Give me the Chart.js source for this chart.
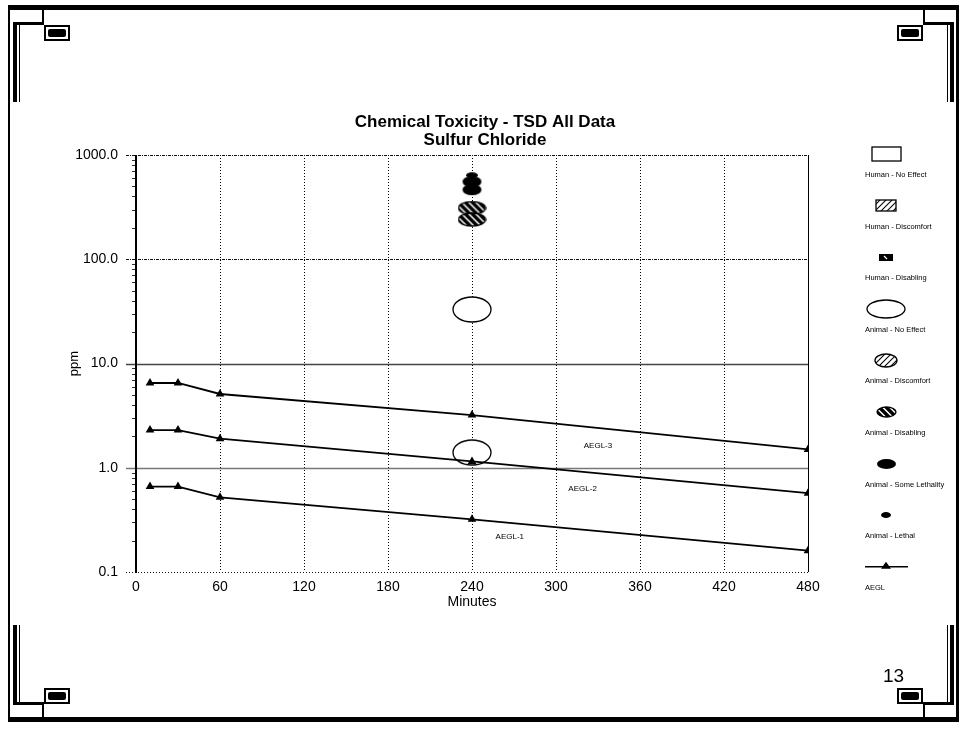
<!DOCTYPE html>
<html>
<head>
<meta charset="utf-8">
<script src="https://cdn.jsdelivr.net/npm/chart.js@4.4.1/dist/chart.umd.min.js"></script>
<style>
  body { margin: 0; background: #fff; }
  #wrap { position: relative; width: 963px; height: 733px; overflow: hidden; background: #fff; }
  #chart { position: absolute; left: 0; top: 0; }
  .b { position: absolute; background: #000; }
  .tile { position: absolute; width: 22px; height: 12px; border: 2px solid #000; background: #fff; }
  .tile i { position: absolute; left: 2px; top: 2px; width: 18px; height: 8px; background: #000; border-radius: 2px; }
  #page { position: absolute; left: 883px; top: 665px; font: 19px "Liberation Sans", Arial, sans-serif; color: #000; }
</style>
</head>
<body>
<div id="wrap">
  <canvas id="chart" width="963" height="733"></canvas>

  <!-- slide frame -->
  <div class="b" style="left:8px;top:5px;width:951px;height:5px"></div>
  <div class="b" style="left:8px;top:717px;width:951px;height:5px"></div>
  <div class="b" style="left:8px;top:5px;width:2px;height:717px"></div>
  <div class="b" style="left:956px;top:5px;width:3px;height:717px"></div>

  <div class="b" style="left:13px;top:22px;width:31px;height:3px"></div>
  <div class="b" style="left:13px;top:22px;width:4px;height:80px"></div>
  <div class="b" style="left:19px;top:25px;width:1px;height:77px"></div>
  <div class="b" style="left:42px;top:10px;width:2px;height:14px"></div>

  <div class="b" style="left:923px;top:22px;width:31px;height:3px"></div>
  <div class="b" style="left:950px;top:22px;width:4px;height:80px"></div>
  <div class="b" style="left:947px;top:25px;width:1px;height:77px"></div>
  <div class="b" style="left:923px;top:10px;width:2px;height:14px"></div>

  <div class="b" style="left:13px;top:702px;width:31px;height:3px"></div>
  <div class="b" style="left:13px;top:625px;width:4px;height:80px"></div>
  <div class="b" style="left:19px;top:625px;width:1px;height:77px"></div>
  <div class="b" style="left:42px;top:703px;width:2px;height:14px"></div>

  <div class="b" style="left:923px;top:702px;width:31px;height:3px"></div>
  <div class="b" style="left:950px;top:625px;width:4px;height:80px"></div>
  <div class="b" style="left:947px;top:625px;width:1px;height:77px"></div>
  <div class="b" style="left:923px;top:703px;width:2px;height:14px"></div>

  <div class="tile" style="left:44px;top:25px"><i></i></div>
  <div class="tile" style="left:897px;top:25px"><i></i></div>
  <div class="tile" style="left:44px;top:688px"><i></i></div>
  <div class="tile" style="left:897px;top:688px"><i></i></div>

  <div id="page">13</div>
</div>

<script>
// chart data
const titleLines = ["Chemical Toxicity - TSD All Data", "Sulfur Chloride"];
const times = [10, 30, 60, 240, 480];
const aegl1 = [0.66, 0.66, 0.52, 0.32, 0.16];
const aegl2 = [2.3, 2.3, 1.9, 1.15, 0.57];
const aegl3 = [6.5, 6.5, 5.1, 3.2, 1.5];

// animal exposures (minutes, ppm)
const animalNoEffect = [[240, 33], [240, 1.4]];
const animalDisabling = [[240, 310], [240, 240]];
const animalSomeLethality = [[240, 555], [240, 465]];
const animalLethal = [[240, 640]];

const xTicks = [0, 60, 120, 180, 240, 300, 360, 420, 480];
const yTicks = [0.1, 1, 10, 100, 1000];

const legendNames = [
  "Human - No Effect", "Human - Discomfort", "Human - Disabling",
  "Animal - No Effect", "Animal - Discomfort", "Animal - Disabling",
  "Animal - Some Lethality", "Animal - Lethal", "AEGL"
];

// curve labels: text, minutes, ppm
const curveNames = ["AEGL-3", "AEGL-2", "AEGL-1"];
const curveLabelX = [330, 319, 267];
const curveLabelY = [1.61, 0.635, 0.22];

const FONT = "'Liberation Sans', Arial, sans-serif";

// ---- symbol images ----
function hatch(g, w, h, kind) {
  g.strokeStyle = "#000";
  if (kind === "thick") {
    g.lineWidth = 3.4;
    for (let i = -h; i < w + h; i += 7) {
      g.beginPath(); g.moveTo(i, 0); g.lineTo(i + h, h); g.stroke();
    }
  } else {
    g.lineWidth = 1.1;
    for (let i = 0; i < w + h + 6; i += 6) {
      g.beginPath(); g.moveTo(i, 0); g.lineTo(i - h, h); g.stroke();
    }
  }
}

function ellipse(w, h, kind) {
  const c = document.createElement("canvas");
  c.width = w + 2; c.height = h + 2;
  const g = c.getContext("2d");
  const shape = () => {
    g.beginPath();
    g.ellipse(c.width / 2, c.height / 2, w / 2, h / 2, 0, 0, Math.PI * 2);
  };
  shape();
  if (kind === "solid") {
    g.fillStyle = "#000"; g.fill();
    return c;
  }
  g.fillStyle = "#fff"; g.fill();
  if (kind === "thick" || kind === "thin") {
    g.save(); g.clip(); hatch(g, c.width, c.height, kind); g.restore();
  }
  shape();
  g.lineWidth = 1.3; g.strokeStyle = "#000"; g.stroke();
  return c;
}

function box(w, h, kind) {
  const c = document.createElement("canvas");
  c.width = w + 2; c.height = h + 2;
  const g = c.getContext("2d");
  if (kind === "solid") {
    g.fillStyle = "#000"; g.fillRect(1, 1, w, h);
    g.strokeStyle = "#fff"; g.lineWidth = 1.2;
    g.beginPath(); g.moveTo(w / 2 - 1, 3); g.lineTo(w / 2 + 2, h - 1); g.stroke();
    return c;
  }
  g.fillStyle = "#fff"; g.fillRect(1, 1, w, h);
  if (kind === "thin") {
    g.save(); g.beginPath(); g.rect(1, 1, w, h); g.clip();
    hatch(g, c.width, c.height, "thin"); g.restore();
  }
  g.strokeStyle = "#000"; g.lineWidth = 1.3;
  g.strokeRect(1, 1, w, h);
  return c;
}

const plotNoEffect = ellipse(38, 25, "open");
const plotDisabling = ellipse(27, 13, "thick");
const plotSomeLethality = ellipse(19, 11, "solid");
const plotLethal = ellipse(12, 6, "solid");

const legendSymbols = [
  box(29, 14, "open"), box(20, 11, "thin"), box(14, 7, "solid"),
  ellipse(38, 18, "open"), ellipse(22, 13, "thin"), ellipse(19, 10, "thick"),
  ellipse(19, 10, "solid"), ellipse(10, 6, "solid"), null
];

function pts(list) { return list.map(p => ({ x: p[0], y: p[1] })); }
function curve(vals) { return times.map((t, i) => ({ x: t, y: vals[i] })); }

function aeglSet(vals) {
  return {
    type: "line", data: curve(vals), showLine: true,
    borderColor: "#000", borderWidth: 1.8,
    pointStyle: "triangle", pointRadius: 5,
    pointBackgroundColor: "#000", pointBorderColor: "#000", pointBorderWidth: 0
  };
}

function markSet(list, img) {
  return { type: "scatter", data: pts(list), pointStyle: img, pointRadius: 6, showLine: false };
}

// grid, axis, title, legend, curve labels
const extras = {
  id: "extras",
  beforeDatasetsDraw(chart) {
    const { ctx, chartArea: a, scales: { x, y } } = chart;
    ctx.save();
    xTicks.forEach(t => {
      if (t === 0) return;
      const px = Math.round(x.getPixelForValue(t)) + 0.5;
      ctx.beginPath();
      ctx.setLineDash(t === 480 ? [] : [1, 2]);
      ctx.strokeStyle = "#000";
      ctx.lineWidth = 1;
      ctx.moveTo(px, a.top); ctx.lineTo(px, a.bottom); ctx.stroke();
    });
    yTicks.forEach(v => {
      const py = Math.round(y.getPixelForValue(v)) + 0.5;
      ctx.beginPath();
      if (v === 10) { ctx.setLineDash([]); ctx.strokeStyle = "#444"; ctx.lineWidth = 1.5; }
      else if (v === 1) { ctx.setLineDash([]); ctx.strokeStyle = "#777"; ctx.lineWidth = 1.5; }
      else if (v === 0.1) { ctx.setLineDash([1, 2]); ctx.strokeStyle = "#111"; ctx.lineWidth = 1; }
      else { ctx.setLineDash([3, 1, 1, 1]); ctx.strokeStyle = "#111"; ctx.lineWidth = 1; }
      ctx.moveTo(a.left - 10, py); ctx.lineTo(a.right, py); ctx.stroke();
    });
    // minor ticks on the log axis
    ctx.setLineDash([]);
    ctx.strokeStyle = "#333"; ctx.lineWidth = 1;
    [0.1, 1, 10, 100].forEach(d => {
      for (let m = 2; m <= 9; m++) {
        const py = Math.round(y.getPixelForValue(d * m)) + 0.5;
        ctx.beginPath(); ctx.moveTo(a.left - 4, py); ctx.lineTo(a.left, py); ctx.stroke();
      }
    });
    ctx.strokeStyle = "#000"; ctx.lineWidth = 2;
    ctx.beginPath(); ctx.moveTo(a.left, a.top); ctx.lineTo(a.left, a.bottom + 1); ctx.stroke();
    ctx.restore();
  },
  afterDraw(chart) {
    const { ctx, scales: { x, y } } = chart;
    ctx.save();
    ctx.fillStyle = "#000";
    ctx.textAlign = "center";
    ctx.textBaseline = "middle";
    ctx.font = "bold 17px " + FONT;
    ctx.fillText(titleLines[0], 485, 122);
    ctx.fillText(titleLines[1], 485, 140);

    ctx.font = "8px " + FONT;
    curveNames.forEach((n, i) => {
      ctx.fillText(n, x.getPixelForValue(curveLabelX[i]), y.getPixelForValue(curveLabelY[i]));
    });

    // legend
    const cx = 886;
    legendNames.forEach((n, i) => {
      const ty = 175 + i * 51.6;
      const sy = ty - 21;
      const img = legendSymbols[i];
      if (img) {
        ctx.drawImage(img, Math.round(cx - img.width / 2), Math.round(sy - img.height / 2));
      } else {
        ctx.strokeStyle = "#000"; ctx.lineWidth = 1.5;
        ctx.beginPath(); ctx.moveTo(865, sy); ctx.lineTo(908, sy); ctx.stroke();
        ctx.beginPath();
        ctx.moveTo(cx, sy - 5); ctx.lineTo(cx + 5, sy + 2); ctx.lineTo(cx - 5, sy + 2);
        ctx.closePath(); ctx.fill();
      }
      ctx.textAlign = "left";
      ctx.font = "7.5px " + FONT;
      ctx.fillText(n, 865, ty);
    });
    ctx.restore();
  }
};

Chart.defaults.font.family = FONT;
Chart.defaults.color = "#000";

new Chart(document.getElementById("chart"), {
  type: "scatter",
  data: {
    datasets: [
      aeglSet(aegl3), aeglSet(aegl2), aeglSet(aegl1),
      markSet(animalLethal, plotLethal),
      markSet(animalSomeLethality, plotSomeLethality),
      markSet(animalDisabling, plotDisabling),
      markSet(animalNoEffect, plotNoEffect)
    ]
  },
  options: {
    responsive: false,
    animation: false,
    layout: { padding: { left: 40, right: 155, top: 155, bottom: 117 } },
    plugins: { legend: { display: false }, tooltip: { enabled: false } },
    scales: {
      x: {
        type: "linear", min: 0, max: 480,
        grid: { display: false, drawTicks: false },
        border: { display: false },
        ticks: { stepSize: 60, padding: 7, font: { size: 14 } },
        title: { display: true, text: "Minutes", font: { size: 14 }, padding: { top: 0, bottom: 5 } },
        afterFit(s) { s.height = 44; }
      },
      y: {
        type: "logarithmic", min: 0.1, max: 1000,
        grid: { display: false, drawTicks: false },
        border: { display: false },
        afterBuildTicks(s) { s.ticks = yTicks.map(v => ({ value: v })); },
        ticks: { padding: 18, font: { size: 14 }, callback: v => Number(v).toFixed(1) },
        title: { display: true, text: "ppm", font: { size: 13 }, padding: { top: 27, bottom: 0 } },
        afterFit(s) { s.width = 96; }
      }
    }
  },
  plugins: [extras]
});
</script>
</body>
</html>
